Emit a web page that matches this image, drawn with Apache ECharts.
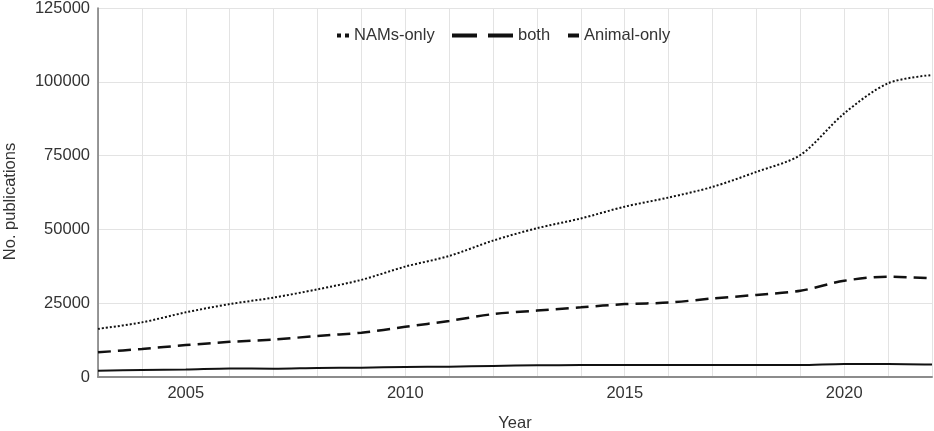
<!DOCTYPE html>
<html lang="en">
<head>
  <meta charset="UTF-8">
  <script src="https://cdn.jsdelivr.net/npm/echarts/dist/echarts.min.js"></script>
  <style>
    html, body { margin: 0; padding: 0; background: #fff; }
    #chart { width: 934px; height: 431px; }
  </style>
</head>
<body>
  <div id="chart"></div>
  <script>
    const years = [2003, 2004, 2005, 2006, 2007, 2008, 2009, 2010, 2011, 2012,
                   2013, 2014, 2015, 2016, 2017, 2018, 2019, 2020, 2021, 2022];
    const namsOnly = [16300, 18500, 21900, 24700, 26900, 29700, 32900, 37400, 41000, 46200,
                      50400, 53700, 57700, 60800, 64400, 69500, 75200, 89300, 99500, 102300];
    const both = [2150, 2350, 2500, 2900, 2800, 3050, 3150, 3400, 3500, 3750,
                  3950, 4050, 4050, 4050, 4050, 4050, 4050, 4400, 4400, 4200];
    const animalOnly = [8350, 9500, 10800, 11900, 12700, 13900, 15000, 17000, 19000, 21300,
                        22500, 23600, 24700, 25200, 26600, 27800, 29200, 32600, 34000, 33400];
    const yTicks = [0, 25000, 50000, 75000, 100000, 125000];

    const font = 'Liberation Sans, Arial, sans-serif';
    const chart = echarts.init(document.getElementById('chart'));

    // one legend per entry so each can have its own icon width
    const makeLegend = (name, left, width, path) => ({
      data: [name],
      left: left,
      top: 22,
      itemWidth: width,
      itemHeight: 4,
      icon: path,
      textStyle: { fontFamily: font, fontSize: 16.5, color: '#333' },
      selectedMode: false
    });

    const pairs = arr => years.map((y, i) => [y, arr[i]]);

    chart.setOption({
      animation: false,
      grid: { left: 98, right: 2, top: 8, bottom: 54, outerBoundsMode: 'none' },
      legend: [
        makeLegend('NAMs-only', 332, 12, 'path://M0,0h4v4h-4z M8,0h4v4h-4z'),
        makeLegend('both', 447, 61, 'path://M0,0h25v4h-25z M36,0h25v4h-25z'),
        makeLegend('Animal-only', 563, 11, 'path://M0,0h11v4h-11z')
      ],
      xAxis: {
        type: 'value',
        min: years[0],
        max: years[years.length - 1],
        interval: 1,
        name: 'Year',
        nameLocation: 'middle',
        nameGap: 38,
        nameTextStyle: { fontFamily: font, fontSize: 16.5, color: '#333' },
        axisLine: { show: true, lineStyle: { color: '#8c8c8c', width: 2 } },
        axisTick: { show: false },
        axisLabel: {
          margin: 8,
          fontFamily: font, fontSize: 16.5, color: '#333',
          formatter: v => (v % 5 === 0 ? String(v) : '')
        },
        splitLine: { show: true, lineStyle: { color: '#e3e3e3', width: 1 } }
      },
      yAxis: {
        type: 'value',
        min: yTicks[0],
        max: yTicks[yTicks.length - 1],
        interval: yTicks[1] - yTicks[0],
        name: 'No. publications',
        nameLocation: 'middle',
        nameGap: 79,
        // nudge the title a little lower, as in the original
        nameTextStyle: { fontFamily: font, fontSize: 16.5, color: '#333', padding: [0, 18, 0, 0] },
        axisLine: { show: true, lineStyle: { color: '#777', width: 1.5 } },
        axisTick: { show: false },
        axisLabel: {
          margin: 8, fontFamily: font, fontSize: 16.5, color: '#333',
          formatter: v => String(v)
        },
        splitLine: { show: true, lineStyle: { color: '#e3e3e3', width: 1 } }
      },
      series: [
        {
          name: 'NAMs-only', type: 'line', data: pairs(namsOnly), smooth: 0.3,
          showSymbol: false, color: '#111',
          lineStyle: { color: '#111', width: 2, type: [2, 2] }
        },
        {
          name: 'both', type: 'line', data: pairs(both), smooth: 0.3,
          showSymbol: false, color: '#111',
          lineStyle: { color: '#111', width: 2 }
        },
        {
          name: 'Animal-only', type: 'line', data: pairs(animalOnly), smooth: 0.3,
          showSymbol: false, color: '#111',
          lineStyle: { color: '#111', width: 2.5, type: [13, 7] }
        }
      ]
    });
  </script>
</body>
</html>
